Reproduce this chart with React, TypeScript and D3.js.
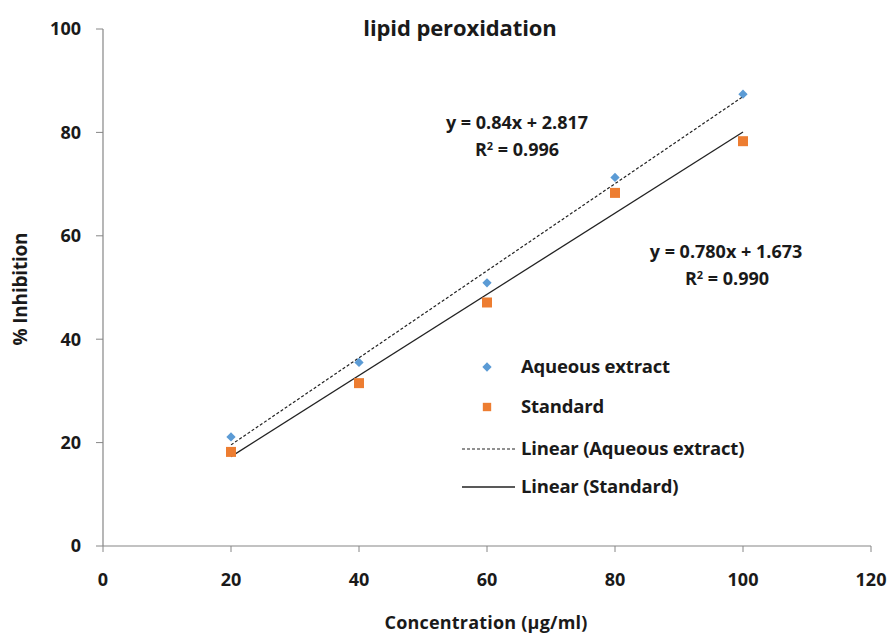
import React from "react";
import * as d3 from "d3";

const concentrations = [20, 40, 60, 80, 100];
const aqueousValues = [21.1, 35.5, 50.9, 71.3, 87.4];
const standardValues = [18.2, 31.5, 47.1, 68.3, 78.3];
const xTicks = [0, 20, 40, 60, 80, 100, 120];
const yTicks = [0, 20, 40, 60, 80, 100];
const aqueousEq = "y = 0.84x + 2.817";
const aqueousR2 = "0.996";
const standardEq = "y = 0.780x + 1.673";
const standardR2 = "0.990";
const legendLabels = ["Aqueous extract", "Standard", "Linear (Aqueous extract)", "Linear (Standard)"];

const W = 887, H = 635;
const FONT = "'Open Sans', Lato, sans-serif";
const BLUE = "#5B9BD5";
const ORANGE = "#ED7D31";
const AXIS = "#868686";

function fit(xs: number[], ys: number[]) {
  const mx = d3.mean(xs)!, my = d3.mean(ys)!;
  const sxy = d3.sum(xs, (x, i) => (x - mx) * (ys[i] - my));
  const sxx = d3.sum(xs, (x) => (x - mx) * (x - mx));
  const b = sxy / sxx;
  return { b, a: my - b * mx };
}

export default function App() {
  const x = d3.scaleLinear().domain([0, 120]).range([103, 871]);
  const y = d3.scaleLinear().domain([0, 100]).range([546, 29]);
  const fa = fit(concentrations, aqueousValues);
  const fs = fit(concentrations, standardValues);
  const x0 = d3.min(concentrations)!, x1 = d3.max(concentrations)!;
  const line = d3.line<number[]>().x((d) => x(d[0])).y((d) => y(d[1]));
  const trendA = line([[x0, fa.a + fa.b * x0], [x1, fa.a + fa.b * x1]]);
  const trendS = line([[x0, fs.a + fs.b * x0], [x1, fs.a + fs.b * x1]]);
  const diamond = d3.symbol().type(d3.symbolDiamond2).size(55)();
  const square = d3.symbol().type(d3.symbolSquare).size(100)();

  return (
    <svg width={W} height={H} style={{ position: "absolute", left: 0, top: 0, background: "#fff" }}
      fontFamily={FONT} fontWeight="bold" fill="#1a1a1a">
      <text x={460} y={28} dy="0.35em" textAnchor="middle" fontSize={22} letterSpacing={-0.1}>lipid peroxidation</text>

      {/* axes */}
      <line x1={x(0)} x2={x(0)} y1={y(100)} y2={y(0)} stroke={AXIS} strokeWidth={1.2} />
      <line x1={x(0)} x2={x(120)} y1={y(0)} y2={y(0)} stroke={AXIS} strokeWidth={1.2} />
      {yTicks.map((t) => (
        <g key={"y" + t}>
          <line x1={x(0) - 7} x2={x(0)} y1={y(t)} y2={y(t)} stroke={AXIS} strokeWidth={1} />
          <text x={81} y={y(t)} dy="0.35em" textAnchor="end" fontSize={18}>{t}</text>
        </g>
      ))}
      {xTicks.map((t) => (
        <g key={"x" + t}>
          <line x1={x(t)} x2={x(t)} y1={y(0)} y2={y(0) + 6} stroke={AXIS} strokeWidth={1} />
          <text x={x(t)} y={580} dy="0.35em" textAnchor="middle" fontSize={18}>{t}</text>
        </g>
      ))}
      <text x={486} y={623} dy="0.35em" textAnchor="middle" fontSize={18} letterSpacing={0.2}>Concentration (µg/ml)</text>
      <text transform="translate(20,289) rotate(-90)" dy="0.35em" textAnchor="middle" fontSize={19} letterSpacing={-0.2}>% Inhibition</text>

      {/* trendlines */}
      <path d={trendA!} stroke="#222" strokeWidth={1.2} strokeDasharray="3,2" fill="none" />
      <path d={trendS!} stroke="#222" strokeWidth={1.3} fill="none" />

      {/* points */}
      {concentrations.map((c, i) => (
        <path key={"a" + i} d={diamond!} transform={`translate(${x(c)},${y(aqueousValues[i])})`} fill={BLUE} />
      ))}
      {concentrations.map((c, i) => (
        <path key={"s" + i} d={square!} transform={`translate(${x(c)},${y(standardValues[i])})`} fill={ORANGE} />
      ))}

      {/* equations */}
      <text x={517} y={123} dy="0.35em" textAnchor="middle" fontSize={18} letterSpacing={0}>{aqueousEq}</text>
      <text x={517} y={150} dy="0.35em" textAnchor="middle" fontSize={18} letterSpacing={0}>R<tspan dy="-6" fontSize={11}>2</tspan><tspan dy="6"> = {aqueousR2}</tspan></text>
      <text x={726} y={252} dy="0.35em" textAnchor="middle" fontSize={18} letterSpacing={0}>{standardEq}</text>
      <text x={727} y={279} dy="0.35em" textAnchor="middle" fontSize={18} letterSpacing={0}>R<tspan dy="-6" fontSize={11}>2</tspan><tspan dy="6"> = {standardR2}</tspan></text>

      {/* legend */}
      <path d={diamond!} transform="translate(487,367)" fill={BLUE} />
      <path d={d3.symbol().type(d3.symbolSquare).size(70)()!} transform="translate(487,407)" fill={ORANGE} />
      <line x1={462} x2={515} y1={449} y2={449} stroke="#222" strokeWidth={1.2} strokeDasharray="3,2" />
      <line x1={462} x2={515} y1={487} y2={487} stroke="#222" strokeWidth={1.3} />
      {legendLabels.map((l, i) => (
        <text key={l} x={521} y={[367, 407, 449, 487][i]} dy="0.35em" fontSize={18.5} letterSpacing={-0.2}>{l}</text>
      ))}
    </svg>
  );
}
